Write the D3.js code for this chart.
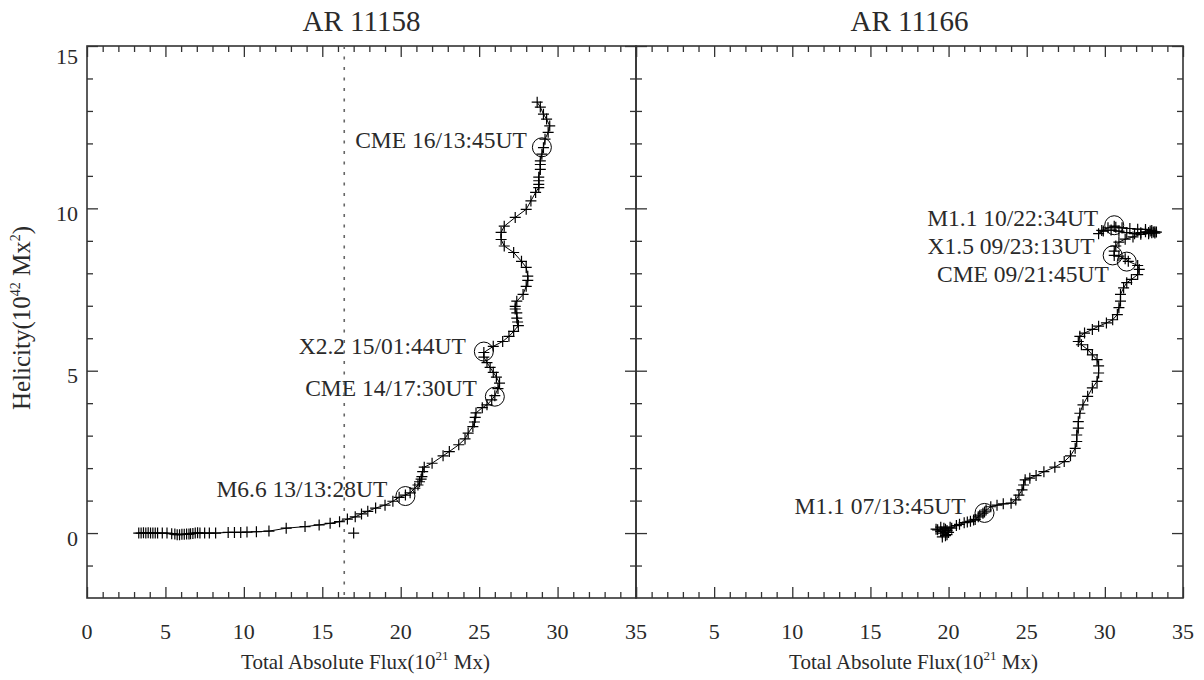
<!DOCTYPE html>
<html><head><meta charset="utf-8">
<script src="https://cdn.jsdelivr.net/npm/d3@7"></script>
<style>
body{margin:0;background:#fff;}
text{font-family:"Liberation Serif","Times New Roman",serif;fill:#2a2a2a;}
</style>
</head><body>
<svg id="chart" width="1204" height="680"></svg>
<script>
// ---------------- data ----------------
const panelTitles = ["AR 11158", "AR 11166"];
const xMajorTicks = [0, 5, 10, 15, 20, 25, 30, 35];
const xLabelsLeft = [0, 5, 10, 15, 20, 25, 30, 35];
const xLabelsRight = [5, 10, 15, 20, 25, 30, 35];
const yMajorTicks = [0, 5, 10, 15];
const yLabels = [0, 5, 10, 15];

// AR 11158 trajectory (flux 1e21 Mx, helicity 1e42 Mx^2)
const leftFlux = [3.3,3.45,3.6,3.75,3.9,4.05,4.2,4.35,4.5,4.8,5.1,5.4,5.6,5.75,5.9,6.05,6.2,6.35,6.5,6.6,6.75,6.9,7.05,7.2,7.5,7.8,8.2,
  9.0,9.4,9.8,10.2,10.8,11.6,12.7,13.9,14.8,15.5,16.1,16.6,17.1,17.5,17.9,18.4,19.0,19.5,19.9,20.3,20.6,20.9,21.1,21.2,21.3,21.35,21.4,21.5,22.0,22.7,23.1,23.7,24.1,24.3,24.6,24.7,24.75,24.8,25.2,25.5,25.8,26.0,26.2,26.3,26.1,25.9,25.7,25.5,25.3,25.3,25.9,26.5,26.9,27.2,27.5,27.45,27.4,27.4,27.3,27.3,27.4,27.8,28.0,28.1,28.1,28.0,27.7,27.2,26.6,26.4,26.4,26.6,27.3,28.0,28.3,28.6,28.8,28.8,28.8,28.8,28.9,28.9,28.9,29.0,29.1,29.2,29.4,29.5,29.3,29.1,28.9,28.7];
const leftHelicity = [0,0,0.01,0,0.01,0,0,0,0,0,0,-0.02,-0.03,-0.05,-0.05,-0.04,-0.04,-0.03,-0.03,-0.02,-0.01,0,0.01,0,0,0,0,
  0.02,0.02,0.02,0.03,0.04,0.06,0.15,0.2,0.25,0.3,0.35,0.43,0.5,0.59,0.67,0.77,0.86,0.98,1.1,1.17,1.24,1.38,1.48,1.58,1.66,1.74,1.89,2.03,2.15,2.38,2.51,2.72,2.9,3.08,3.28,3.42,3.56,3.7,3.86,3.95,4.1,4.23,4.45,4.62,4.8,4.95,5.1,5.25,5.42,5.56,5.75,5.9,6.06,6.21,6.39,6.5,6.62,6.78,6.9,6.98,7.14,7.35,7.6,7.78,7.91,8.18,8.37,8.64,8.84,9.04,9.26,9.45,9.72,9.97,10.23,10.49,10.64,10.74,10.85,10.96,11.2,11.35,11.46,11.67,11.87,12.13,12.34,12.54,12.75,12.9,13.12,13.27,13.31];
const leftOutlierFlux = [17.0];
const leftOutlierHelicity = [0.0];
const leftEventLabels = ["M6.6 13/13:28UT", "CME 14/17:30UT", "X2.2 15/01:44UT", "CME 16/13:45UT"];
const leftEventFlux = [20.3, 26.0, 25.3, 29.0];
const leftEventHelicity = [1.14, 4.2, 5.59, 11.88];
const referenceFlux = [16.4];

// AR 11166 trajectory
const rightFlux = [19.3,19.5,19.2,19.6,19.8,19.7,19.9,20.0,19.6,19.8,20.1,19.5,19.9,20.2,
  20.5,20.7,21.0,21.2,21.4,21.6,21.7,21.9,22.0,22.2,22.3,22.4,22.7,23.1,23.5,24.0,24.3,24.5,24.7,24.8,24.9,25.2,25.6,26.1,26.8,27.4,27.8,28.1,28.2,28.2,28.3,28.3,28.4,28.6,28.9,29.2,29.5,29.6,29.6,29.5,29.2,28.9,28.5,28.3,28.4,28.7,29.2,29.6,30.1,30.5,30.8,30.9,31.0,31.0,31.2,31.4,31.7,32.1,32.2,32.1,31.5,31.3,30.9,30.6,30.6,30.7,30.9,31.3,31.8,32.3,32.8,33.2,33.0,32.6,32.1,31.6,31.1,30.7,30.6,30.2,29.8,29.6,29.9,30.4,30.9,31.4,31.9,32.3,32.6,32.8,32.9,33.0,33.1,33.2,33.3];
const rightHelicity = [0.1,0.05,0.12,0.0,-0.08,0.15,0.08,0.02,-0.12,0.12,0.18,0.18,-0.05,0.15,
  0.23,0.27,0.32,0.34,0.36,0.4,0.42,0.5,0.55,0.61,0.65,0.71,0.81,0.86,0.9,0.92,1.02,1.17,1.33,1.48,1.64,1.69,1.77,1.89,2.03,2.2,2.38,2.61,2.82,3.02,3.23,3.43,3.69,3.95,4.21,4.47,4.67,4.93,5.15,5.34,5.49,5.65,5.8,5.9,6.06,6.16,6.27,6.37,6.47,6.57,6.73,6.94,7.14,7.35,7.55,7.71,7.81,7.96,8.12,8.24,8.37,8.45,8.53,8.55,8.68,8.84,8.96,9.05,9.12,9.2,9.26,9.28,9.32,9.35,9.36,9.38,9.4,9.42,9.45,9.4,9.32,9.22,9.3,9.33,9.3,9.25,9.22,9.25,9.28,9.22,9.3,9.25,9.27,9.24,9.27];
const rightEventLabels = ["M1.1 07/13:45UT", "CME 09/21:45UT", "X1.5 09/23:13UT", "M1.1 10/22:34UT"];
const rightEventFlux = [22.3, 31.4, 30.5, 30.6];
const rightEventHelicity = [0.62, 8.36, 8.55, 9.48];

// label offsets (pixels, layout only): [dx to text end, dy of text centre]
const leftLabelOffsets = [[-18,-7],[-18,-9],[-18,-6],[-15,-7]];
const rightLabelOffsets = [[-19,-7],[-18,12],[-18,-9],[-16,-7]];

// ---------------- layout ----------------
const svg = d3.select("#chart");
svg.append("rect").attr("width",1204).attr("height",680).attr("fill","#fff");
const plotTop = 46, plotBottom = 598;
const y = d3.scaleLinear().domain([-2, 15]).range([plotBottom, plotTop]);
const xL = d3.scaleLinear().domain([0, 35]).range([87, 636]);
const xR = d3.scaleLinear().domain([0, 35]).range([636, 1183]);
const minorX = d3.range(0, 36, 1).filter(v => v % 5 !== 0);
const minorY = d3.range(-1, 15, 1).filter(v => v % 5 !== 0);
const axisColor = "#333";

function styleAxis(g){
  g.select(".domain").remove();
  g.selectAll("line").attr("stroke", axisColor).attr("stroke-width", 1.3);
  g.selectAll("text").remove();
}

function drawPanel(x, flux, hel, evFlux, evHel, evLabels, offsets, title, xLabels, showY){
  const g = svg.append("g");
  const x0 = x.range()[0], x1 = x.range()[1];
  const mk = [
    [d3.axisBottom(x).tickValues(xMajorTicks).tickSizeInner(-11).tickSizeOuter(0), `translate(0,${plotBottom})`],
    [d3.axisBottom(x).tickValues(minorX).tickSizeInner(-6).tickSizeOuter(0), `translate(0,${plotBottom})`],
    [d3.axisTop(x).tickValues(xMajorTicks).tickSizeInner(-11).tickSizeOuter(0), `translate(0,${plotTop})`],
    [d3.axisTop(x).tickValues(minorX).tickSizeInner(-6).tickSizeOuter(0), `translate(0,${plotTop})`],
    [d3.axisLeft(y).tickValues(yMajorTicks).tickSizeInner(-11).tickSizeOuter(0), `translate(${x0},0)`],
    [d3.axisLeft(y).tickValues(minorY).tickSizeInner(-6).tickSizeOuter(0), `translate(${x0},0)`],
    [d3.axisRight(y).tickValues(yMajorTicks).tickSizeInner(-11).tickSizeOuter(0), `translate(${x1},0)`],
    [d3.axisRight(y).tickValues(minorY).tickSizeInner(-6).tickSizeOuter(0), `translate(${x1},0)`]
  ];
  mk.forEach(([ax, tr]) => g.append("g").attr("transform", tr).call(ax).call(styleAxis));
  g.append("rect").attr("x", x0).attr("y", plotTop).attr("width", x1 - x0).attr("height", plotBottom - plotTop)
    .attr("fill", "none").attr("stroke", axisColor).attr("stroke-width", 1.6);
  g.selectAll(".xl").data(xLabels).join("text").attr("class","xl")
    .attr("x", d => x(d)).attr("y", 631).attr("text-anchor","middle").attr("dominant-baseline","central")
    .attr("font-size", 22).text(d => d);
  if (showY){
    g.selectAll(".yl").data(yLabels).join("text").attr("class","yl")
      .attr("x", x0 - 9).attr("y", d => Math.max(y(d) + 5, plotTop + 10)).attr("text-anchor","end")
      .attr("dominant-baseline","central").attr("font-size", 22).text(d => d);
  }
  g.append("text").attr("x", (x0 + x1) / 2).attr("y", 21).attr("text-anchor","middle")
    .attr("dominant-baseline","central").attr("font-size", 29).text(title);
  const t = g.append("text").attr("x", (x0 + x1) / 2 + 4).attr("y", 669).attr("text-anchor","middle").attr("font-size", 21);
  t.append("tspan").text("Total Absolute Flux(10");
  t.append("tspan").attr("font-size", 13).attr("dy", -9).text("21");
  t.append("tspan").attr("dy", 9).text(" Mx)");

  const pts = flux.map((f, i) => [f, hel[i]]);
  g.append("path").datum(pts).attr("fill","none").attr("stroke","#000").attr("stroke-width",1)
    .attr("d", d3.line().x(d => x(d[0])).y(d => y(d[1])));
  const s = 5.5;
  g.selectAll(".pl").data(pts).join("path").attr("class","pl")
    .attr("d", d => { const px = x(d[0]), py = y(d[1]); return `M${px-s},${py}H${px+s}M${px},${py-s}V${py+s}`; })
    .attr("stroke","#000").attr("stroke-width",1.2).attr("fill","none");
  const ev = evFlux.map((f, i) => ({f, h: evHel[i], label: evLabels[i], off: offsets[i]}));
  g.selectAll(".ev").data(ev).join("circle").attr("class","ev")
    .attr("cx", d => x(d.f)).attr("cy", d => y(d.h)).attr("r", 9.5)
    .attr("fill","none").attr("stroke","#000").attr("stroke-width",1);
  g.selectAll(".evl").data(ev).join("text").attr("class","evl")
    .attr("x", d => x(d.f) + d.off[0]).attr("y", d => y(d.h) + d.off[1])
    .attr("text-anchor","end").attr("dominant-baseline","central").attr("font-size", 23.5)
    .text(d => d.label);
  return g;
}

const gl = drawPanel(xL, leftFlux, leftHelicity, leftEventFlux, leftEventHelicity, leftEventLabels, leftLabelOffsets, panelTitles[0], xLabelsLeft, true);
gl.selectAll(".ref").data(referenceFlux).join("line").attr("class","ref")
  .attr("x1", d => xL(d)).attr("x2", d => xL(d)).attr("y1", plotTop).attr("y2", plotBottom)
  .attr("stroke","#666").attr("stroke-width",1.6).attr("stroke-dasharray","3,7.5");
gl.selectAll(".out").data(leftOutlierFlux.map((f,i)=>[f,leftOutlierHelicity[i]])).join("path").attr("class","out")
  .attr("d", d => { const px = xL(d[0]), py = y(d[1]); return `M${px-5.5},${py}H${px+5.5}M${px},${py-5.5}V${py+5.5}`; })
  .attr("stroke","#000").attr("stroke-width",1.2);

drawPanel(xR, rightFlux, rightHelicity, rightEventFlux, rightEventHelicity, rightEventLabels, rightLabelOffsets, panelTitles[1], xLabelsRight, false);

const yt = svg.append("text").attr("transform","translate(30,318) rotate(-90)").attr("text-anchor","middle").attr("font-size",25);
yt.append("tspan").text("Helicity(10");
yt.append("tspan").attr("font-size",14).attr("dy",-10).text("42");
yt.append("tspan").attr("dy",10).text(" Mx");
yt.append("tspan").attr("font-size",14).attr("dy",-10).text("2");
yt.append("tspan").attr("dy",10).text(")");
</script>
</body></html>
